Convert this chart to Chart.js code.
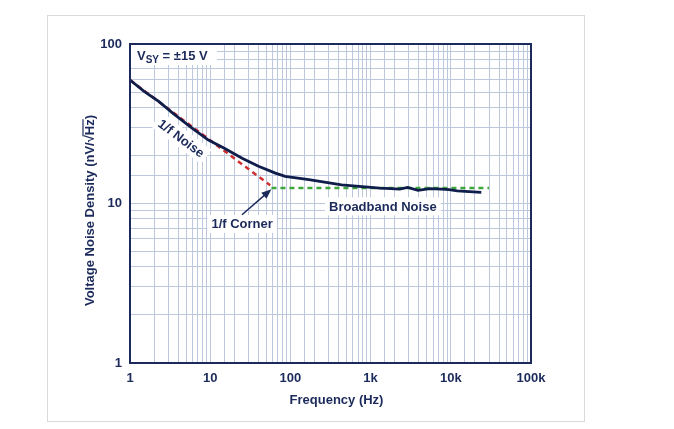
<!DOCTYPE html>
<html>
<head>
<meta charset="utf-8">
<script src="https://cdn.jsdelivr.net/npm/chart.js@4.4.0/dist/chart.umd.min.js"></script>
<style>
  body { margin: 0; background: #fff; }
  #frame { position: absolute; left: 47px; top: 15px; width: 536px; height: 405px; border: 1px solid #dadada; }
  #wrap { position: absolute; left: 0; top: 0; width: 674px; height: 429px; }
</style>
</head>
<body>
<div id="frame"></div>
<div id="wrap"><canvas id="noiseChart" width="674" height="429"></canvas></div>
<script>
// measured noise curve (Hz, nV/rtHz)
var freq  = [1, 1.5, 2.3, 3.5, 6, 9.5, 15, 25, 40, 65, 86, 170, 435, 850, 1300, 1800, 2300, 2900, 3900, 5500, 7600, 9500, 12000, 24000];
var noise = [59.4, 50.5, 43.5, 36.5, 29.6, 25.0, 22.2, 19.2, 17.1, 15.5, 14.8, 14.1, 13.1, 12.7, 12.5, 12.4, 12.3, 12.6, 12.1, 12.4, 12.3, 12.2, 12.0, 11.75];

// 1/f asymptote and broadband floor
var flickerF = [1, 56];
var flickerV = [59.4, 13.0];
var floorF = [58, 30000];
var floorV = [12.5, 12.5];

var xTickLabels = { 1: '1', 10: '10', 100: '100', 1000: '1k', 10000: '10k', 100000: '100k' };
var yTickLabels = { 1: '1', 10: '10', 100: '100' };

var navy = '#1b2a5a';
var fontFam = '"Liberation Sans", Arial, sans-serif';

function pts(xs, ys) {
  return xs.map(function(v, i) { return { x: v, y: ys[i] }; });
}

// text notes placed in data coordinates
var textNotes = [
  { text: '1/f Noise', f: 4.37, v: 25.7, angle: 37 },
  { text: '1/f Corner', f: 25, v: 7.45, angle: 0 },
  { text: 'Broadband Noise', f: 1420, v: 9.6, angle: 0 }
];
var arrowNote = { fromF: 24.9, fromV: 8.5, toF: 58, toV: 12.3 };

var boxes = {
  id: 'boxes',
  beforeDatasetsDraw: function(chart) {
    var ctx = chart.ctx, sx = chart.scales.x, sy = chart.scales.y, a = chart.chartArea;
    ctx.save();
    ctx.font = 'bold 13px ' + fontFam;
    ctx.textAlign = 'center';
    ctx.textBaseline = 'middle';
    textNotes.forEach(function(n) {
      var px = sx.getPixelForValue(n.f), py = sy.getPixelForValue(n.v);
      var w = ctx.measureText(n.text).width;
      ctx.save();
      ctx.translate(px, py);
      ctx.rotate(n.angle * Math.PI / 180);
      ctx.fillStyle = '#fff';
      ctx.fillRect(-w / 2 - 4, -9, w + 8, 18);
      ctx.fillStyle = navy;
      ctx.fillText(n.text, 0, 1);
      ctx.restore();
    });

    // supply label, top-left corner
    ctx.fillStyle = '#fff';
    ctx.fillRect(a.left + 1, a.top + 1, 86, 20);
    ctx.fillStyle = navy;
    ctx.textAlign = 'left';
    ctx.textBaseline = 'alphabetic';
    var lx = a.left + 7, ly = a.top + 16;
    ctx.font = 'bold 13px ' + fontFam;
    ctx.fillText('V', lx, ly);
    lx += ctx.measureText('V').width;
    ctx.font = 'bold 10px ' + fontFam;
    ctx.fillText('SY', lx, ly + 3);
    lx += ctx.measureText('SY').width;
    ctx.font = 'bold 13px ' + fontFam;
    ctx.fillText(' = \u00b115 V', lx, ly);
    ctx.restore();
  },
  afterDraw: function(chart) {
    var ctx = chart.ctx, sx = chart.scales.x, sy = chart.scales.y, a = chart.chartArea;
    ctx.save();
    // plot frame
    ctx.strokeStyle = navy;
    ctx.lineWidth = 2;
    ctx.strokeRect(a.left, a.top, a.right - a.left, a.bottom - a.top);

    // arrow to the corner
    var x0 = sx.getPixelForValue(arrowNote.fromF), y0 = sy.getPixelForValue(arrowNote.fromV);
    var x1 = sx.getPixelForValue(arrowNote.toF), y1 = sy.getPixelForValue(arrowNote.toV);
    var ang = Math.atan2(y1 - y0, x1 - x0);
    ctx.strokeStyle = navy;
    ctx.fillStyle = navy;
    ctx.lineWidth = 1.5;
    ctx.beginPath();
    ctx.moveTo(x0, y0);
    ctx.lineTo(x1 - 6 * Math.cos(ang), y1 - 6 * Math.sin(ang));
    ctx.stroke();
    ctx.beginPath();
    ctx.moveTo(x1, y1);
    ctx.lineTo(x1 - 10 * Math.cos(ang) + 4 * Math.sin(ang), y1 - 10 * Math.sin(ang) - 4 * Math.cos(ang));
    ctx.lineTo(x1 - 10 * Math.cos(ang) - 4 * Math.sin(ang), y1 - 10 * Math.sin(ang) + 4 * Math.cos(ang));
    ctx.closePath();
    ctx.fill();

    // axis titles
    ctx.font = 'bold 13px ' + fontFam;
    ctx.textAlign = 'center';
    ctx.textBaseline = 'middle';
    ctx.fillText('Frequency (Hz)', (a.left + a.right) / 2 + 6, a.bottom + 37);

    ctx.save();
    ctx.translate(a.left - 40, (a.top + a.bottom) / 2 + 7);
    ctx.rotate(-Math.PI / 2);
    var title = 'Voltage Noise Density (nV/\u221aHz)';
    var W = ctx.measureText(title).width;
    ctx.fillText(title, 0, 0);
    var pre = ctx.measureText('Voltage Noise Density (nV/\u221a').width;
    var hz = ctx.measureText('Hz').width;
    ctx.lineWidth = 1.2;
    ctx.beginPath();
    ctx.moveTo(-W / 2 + pre - 1, -7);
    ctx.lineTo(-W / 2 + pre + hz, -7);
    ctx.stroke();
    ctx.restore();
    ctx.restore();
  }
};

var gridColor = '#bec8dd';

new Chart(document.getElementById('noiseChart'), {
  type: 'scatter',
  data: {
    datasets: [
      {
        label: 'Noise',
        data: pts(freq, noise),
        showLine: true,
        borderColor: '#0f1d4a',
        borderWidth: 2.8,
        pointRadius: 0,
        tension: 0
      },
      {
        label: '1/f',
        data: pts(flickerF, flickerV),
        showLine: true,
        borderColor: '#cf2f2f',
        borderWidth: 2.5,
        borderDash: [5, 4],
        pointRadius: 0
      },
      {
        label: 'Broadband',
        data: pts(floorF, floorV),
        showLine: true,
        borderColor: '#3ea63a',
        borderWidth: 2.5,
        borderDash: [5, 4],
        pointRadius: 0
      }
    ]
  },
  options: {
    responsive: false,
    animation: false,
    layout: { padding: { left: 0, top: 44, right: 143, bottom: 0 } },
    plugins: { legend: { display: false }, tooltip: { enabled: false } },
    scales: {
      x: {
        type: 'logarithmic',
        min: 1,
        max: 100000,
        afterFit: function(s) { s.height = 66; },
        grid: { color: gridColor, lineWidth: 1, drawTicks: false },
        border: { display: false },
        ticks: {
          autoSkip: false,
          maxRotation: 0,
          padding: 8,
          color: navy,
          font: { family: fontFam, size: 13, weight: 'bold' },
          callback: function(v) { return xTickLabels[v] || ''; }
        }
      },
      y: {
        type: 'logarithmic',
        min: 1,
        max: 100,
        afterFit: function(s) { s.width = 130; },
        grid: { color: gridColor, lineWidth: 1, drawTicks: false },
        border: { display: false },
        ticks: {
          autoSkip: false,
          padding: 8,
          color: navy,
          font: { family: fontFam, size: 13, weight: 'bold' },
          callback: function(v) { return yTickLabels[v] || ''; }
        }
      }
    }
  },
  plugins: [boxes]
});
</script>
</body>
</html>
